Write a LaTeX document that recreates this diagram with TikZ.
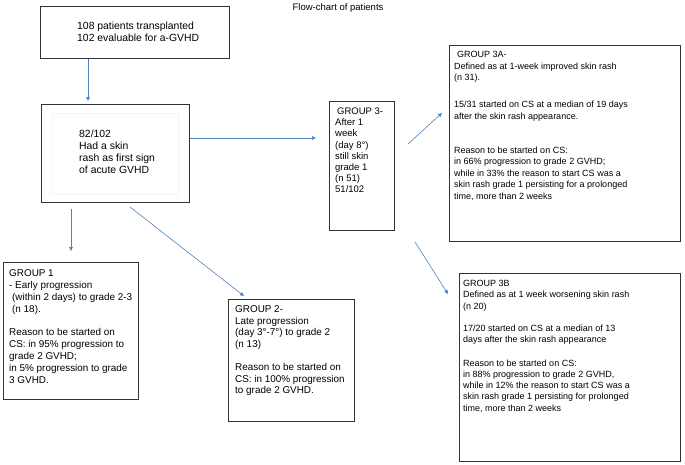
\documentclass[tikz,border=0pt]{standalone}
\usepackage{fontspec}
\setmainfont{Liberation Sans}
\usepackage{tikz}
\usetikzlibrary{arrows.meta}

\definecolor{flowblue}{RGB}{79,129,189}

\tikzset{
  box/.style={draw=black!80, line width=0.7pt, anchor=north west, inner sep=0pt},
  txt/.style={align=left, inner sep=0pt, anchor=north west},
  flow/.style={draw=flowblue, line width=0.6pt, -{Triangle[length=4pt,width=3.6pt]}},
}

\begin{document}
\begin{tikzpicture}[x=1pt,y=-1pt]
		%% everything in pixels of the 685x464 page, y downwards
		\useasboundingbox (0,0) rectangle (685,464);

		\node[font=\fontsize{9.5}{12}\selectfont] (title) at (338,8) {Flow-chart of patients};

		%% Boxes
		\node[box, minimum width=189pt, minimum height=52pt] (top) at (40,6) {};
		\node[box, minimum width=148pt, minimum height=98pt] (mid) at (41,104) {};
		\draw[gray!8] (52,113) rectangle (178,194);
		\node[box, minimum width=65pt, minimum height=129pt] (g3) at (329,101) {};
		\node[box, minimum width=231pt, minimum height=196pt] (g3a) at (449,45) {};
		\node[box, minimum width=221pt, minimum height=188pt] (g3b) at (459,273) {};
		\node[box, minimum width=135pt, minimum height=137pt] (g1) at (3,262) {};
		\node[box, minimum width=126pt, minimum height=122pt] (g2) at (228,299) {};

		%% Texts
		\node[txt, font=\fontsize{10.4}{12}\selectfont] (toptxt) at (77,22.2)
		{108 patients transplanted\\102 evaluable for a-GVHD};
		\node[txt, font=\fontsize{10.4}{12}\selectfont] (midtxt) at (79,130.2)
		{82/102\\Had a skin\\rash as first sign\\of acute GVHD};
		\node[txt, font=\fontsize{9.5}{11.2}\selectfont] (g3txt) at (335,107.6)
		{\hspace{2pt}GROUP 3-\\After 1\\week\\(day 8°)\\still skin\\grade 1\\(n 51)\\51/102};
		\node[txt, font=\fontsize{9.9}{12}\selectfont] (g1txt) at (9,269.4)
		{GROUP 1\\- Early progression\\\hspace{3pt}(within 2 days) to grade 2-3\\\hspace{3pt}(n 18).\\[11pt]
		 Reason to be started on\\CS: in 95\% progression to\\grade 2 GVHD;\\in 5\% progression to grade\\3 GVHD.};
		\node[txt, font=\fontsize{9.9}{11.7}\selectfont] (g2txt) at (235,305.4)
		{GROUP 2-\\Late progression\\(day 3°-7°) to grade 2\\(n 13)\\[11pt]
		 Reason to be started on\\CS: in 100\% progression\\to grade 2 GVHD.};
		\node[txt, font=\fontsize{9}{11.5}\selectfont] (g3atxt) at (454,51.2)
		{\hspace{3pt}GROUP 3A-\\Defined as at 1-week improved skin rash\\(n 31).\\[15.5pt]
		 15/31 started on CS at a median of 19 days\\after the skin rash appearance.\\[22.5pt]
		 Reason to be started on CS:\\in 66\% progression to grade 2 GVHD;\\while in 33\% the reason to start CS was a\\skin rash grade 1 persisting for a prolonged\\time, more than 2 weeks};
		\node[txt, font=\fontsize{9}{11.2}\selectfont] (g3btxt) at (463,280.2)
		{GROUP 3B\\Defined as at 1 week worsening skin rash\\(n 20)\\[10.8pt]
		 17/20 started on CS at a median of 13\\days after the skin rash appearance\\[12.8pt]
		 Reason to be started on CS:\\in 88\% progression to grade 2 GVHD,\\while in 12\% the reason to start CS was a\\skin rash grade 1 persisting for prolonged\\time, more than 2 weeks};

		%% Arrow ends
		\coordinate (midin) at (88,101);
		\coordinate (g3in) at (316,138);
		\coordinate (g1out) at (71,209);
		\coordinate (g1in) at (71,251);
		\coordinate (g2out) at (130,207);
		\coordinate (g2in) at (244,296);
		\coordinate (g3aout) at (408,144);
		\coordinate (g3ain) at (442,113);
		\coordinate (g3bout) at (415,242);
		\coordinate (g3bin) at (448,294);

		%% Arrows
		\draw[flow] (top.south west -| midin) -- (midin);
		\draw[flow] (mid.east |- g3in) -- (g3in);
		\draw[flow] (g1out) -- (g1in);
		\draw[flow] (g2out) -- (g2in);
		\draw[flow] (g3aout) -- (g3ain);
		\draw[flow] (g3bout) -- (g3bin);
	\end{tikzpicture}
\end{document}
